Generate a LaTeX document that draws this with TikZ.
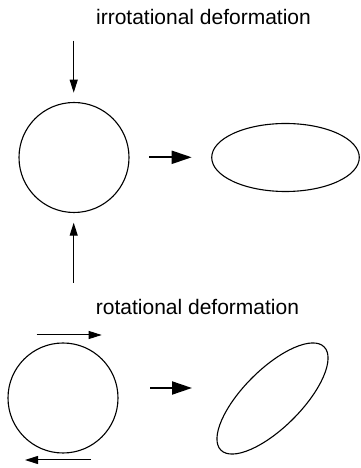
\documentclass[tikz,border=0pt]{standalone}
\usepackage{fontspec}
\setmainfont{Liberation Sans}
\usetikzlibrary{arrows.meta}
\tikzset{
  shape line/.style={line width=1.1pt},
  thin arrow/.style={line width=1pt,-{Triangle[length=13pt,width=8pt]}},
  big arrow/.style={line width=2pt,-{Triangle[length=20pt,width=13pt]}},
  caption/.style={font=\fontsize{21}{25}\selectfont,anchor=base,inner sep=0pt}
}
\begin{document}
\begin{tikzpicture}[x=1pt,y=1pt]
\useasboundingbox (0,0) rectangle (360,468);
% irrotational
\node[caption] (t1) at (203.5,443) {irrotational deformation};
\draw[shape line] (74,310.5) circle (55);
\coordinate (c1) at (74,310.5);
\coordinate (a1s) at (73.7,427.3);
\coordinate (a1e) at (73.7,375.3);
\draw[thin arrow] (a1s) -- (a1e);
\coordinate (a2s) at (73.7,185.3);
\coordinate (a2e) at (73.7,245.3);
\draw[thin arrow] (a2s) -- (a2e);
\coordinate (m1s) at (149.3,310.7);
\coordinate (m1e) at (191.7,310.7);
\draw[big arrow] (m1s) -- (m1e);
\draw[shape line] (285.5,310.5) ellipse [x radius=73.8, y radius=34];
% rotational
\node[caption] (t2) at (197.5,153) {rotational deformation};
\draw[shape line] (63,70) circle (55);
\coordinate (b1s) at (36.7,133);
\coordinate (b1e) at (101.7,133);
\draw[thin arrow] (b1s) -- (b1e);
\coordinate (b2s) at (91,8);
\coordinate (b2e) at (25,8);
\draw[thin arrow] (b2s) -- (b2e);
\coordinate (m2s) at (150,80);
\coordinate (m2e) at (192,80);
\draw[big arrow] (m2s) -- (m2e);
\draw[shape line,rotate around={45:(272.5,69.5)}] (272.5,69.5) ellipse [x radius=73, y radius=29];
\end{tikzpicture}
\end{document}
